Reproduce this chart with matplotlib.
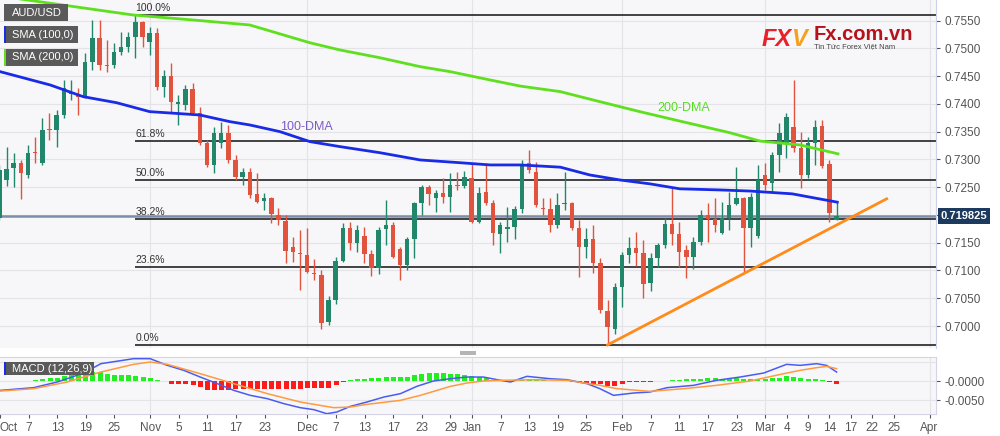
import numpy as np
import matplotlib.pyplot as plt
from matplotlib.patches import Rectangle

plt.rcParams['font.family'] = ['Liberation Sans', 'DejaVu Sans']

# daily candles, index 0 = 1 Oct 2021 (trading days), last = 15 Mar 2022
opens = [0.7195, 0.7263, 0.7285, 0.7294, 0.7272, 0.7314, 0.7294, 0.7355, 0.7353, 0.7380,
         0.7418, 0.7418, 0.7413, 0.7476, 0.7519, 0.7470, 0.7470, 0.7494, 0.7503, 0.7521,
         0.7548, 0.7512, 0.7528, 0.7431, 0.7450, 0.7400, 0.7398, 0.7427, 0.7384, 0.7330,
         0.7290, 0.7330, 0.7348, 0.7299, 0.7268, 0.7277, 0.7238, 0.7225, 0.7231, 0.7200,
         0.7189, 0.7142, 0.7132, 0.7128, 0.7095, 0.7092, 0.7007, 0.7047, 0.7117, 0.7177,
         0.7150, 0.7162, 0.7130, 0.7105, 0.7175, 0.7182, 0.7139, 0.7110, 0.7157, 0.7222,
         0.7250, 0.7231, 0.7240, 0.7232, 0.7254, 0.7252, 0.7267, 0.7187, 0.7241, 0.7222,
         0.7166, 0.7175, 0.7178, 0.7211, 0.7294, 0.7277, 0.7213, 0.7211, 0.7182, 0.7220,
         0.7222, 0.7177, 0.7142, 0.7157, 0.7114, 0.7027, 0.6995, 0.7070, 0.7128, 0.7141,
         0.7132, 0.7077, 0.7123, 0.7146, 0.7184, 0.7166, 0.7137, 0.7124, 0.7151, 0.7200,
         0.7193, 0.7168, 0.7195, 0.7220, 0.7231, 0.7177, 0.7162, 0.7272, 0.7258, 0.7308,
         0.7330, 0.7359, 0.7321, 0.7272, 0.7330, 0.7360, 0.7292, 0.7191]
highs = [0.7290, 0.7323, 0.7312, 0.7299, 0.7326, 0.7341, 0.7375, 0.7384, 0.7389, 0.7443,
         0.7443, 0.7429, 0.7492, 0.7551, 0.7551, 0.7515, 0.7510, 0.7530, 0.7530, 0.7560,
         0.7550, 0.7539, 0.7537, 0.7461, 0.7474, 0.7416, 0.7434, 0.7438, 0.7395, 0.7335,
         0.7359, 0.7368, 0.7362, 0.7308, 0.7285, 0.7285, 0.7276, 0.7240, 0.7232, 0.7213,
         0.7200, 0.7160, 0.7173, 0.7177, 0.7121, 0.7101, 0.7054, 0.7124, 0.7186, 0.7187,
         0.7182, 0.7178, 0.7137, 0.7178, 0.7227, 0.7187, 0.7142, 0.7160, 0.7223, 0.7254,
         0.7254, 0.7245, 0.7267, 0.7276, 0.7277, 0.7279, 0.7294, 0.7250, 0.7294, 0.7227,
         0.7187, 0.7214, 0.7216, 0.7299, 0.7317, 0.7295, 0.7231, 0.7231, 0.7240, 0.7277,
         0.7223, 0.7191, 0.7177, 0.7182, 0.7123, 0.7047, 0.7077, 0.7133, 0.7160, 0.7169,
         0.7155, 0.7132, 0.7150, 0.7195, 0.7249, 0.7187, 0.7146, 0.7160, 0.7209, 0.7222,
         0.7231, 0.7223, 0.7241, 0.7286, 0.7232, 0.7240, 0.7290, 0.7294, 0.7314, 0.7366,
         0.7384, 0.7443, 0.7350, 0.7341, 0.7371, 0.7371, 0.7299, 0.7223]
lows = [0.7191, 0.7252, 0.7250, 0.7229, 0.7267, 0.7294, 0.7290, 0.7335, 0.7323, 0.7375,
        0.7407, 0.7380, 0.7411, 0.7461, 0.7461, 0.7458, 0.7465, 0.7488, 0.7494, 0.7483,
        0.7503, 0.7488, 0.7425, 0.7413, 0.7386, 0.7362, 0.7389, 0.7380, 0.7326, 0.7286,
        0.7276, 0.7321, 0.7294, 0.7263, 0.7254, 0.7231, 0.7222, 0.7209, 0.7186, 0.7182,
        0.7114, 0.7115, 0.7065, 0.7095, 0.7083, 0.6995, 0.7002, 0.7040, 0.7115, 0.7137,
        0.7133, 0.7114, 0.7090, 0.7094, 0.7146, 0.7123, 0.7083, 0.7101, 0.7123, 0.7200,
        0.7218, 0.7205, 0.7222, 0.7205, 0.7245, 0.7249, 0.7186, 0.7186, 0.7218, 0.7146,
        0.7132, 0.7151, 0.7157, 0.7204, 0.7276, 0.7214, 0.7200, 0.7169, 0.7177, 0.7209,
        0.7173, 0.7088, 0.7123, 0.7095, 0.7023, 0.6966, 0.6986, 0.7034, 0.7114, 0.7108,
        0.7050, 0.7063, 0.7106, 0.7141, 0.7146, 0.7106, 0.7086, 0.7103, 0.7146, 0.7151,
        0.7169, 0.7166, 0.7173, 0.7218, 0.7097, 0.7142, 0.7159, 0.7245, 0.7241, 0.7277,
        0.7303, 0.7314, 0.7249, 0.7267, 0.7290, 0.7285, 0.7187, 0.7191]
closes = [0.7281, 0.7283, 0.7294, 0.7276, 0.7312, 0.7312, 0.7353, 0.7353, 0.7380, 0.7429,
          0.7422, 0.7413, 0.7476, 0.7519, 0.7470, 0.7468, 0.7494, 0.7503, 0.7521, 0.7548,
          0.7521, 0.7528, 0.7431, 0.7450, 0.7404, 0.7404, 0.7427, 0.7384, 0.7330, 0.7290,
          0.7348, 0.7348, 0.7299, 0.7268, 0.7277, 0.7236, 0.7223, 0.7231, 0.7202, 0.7191,
          0.7135, 0.7133, 0.7130, 0.7097, 0.7094, 0.7005, 0.7047, 0.7117, 0.7177, 0.7150,
          0.7173, 0.7130, 0.7105, 0.7173, 0.7182, 0.7124, 0.7110, 0.7157, 0.7222, 0.7250,
          0.7238, 0.7240, 0.7232, 0.7254, 0.7252, 0.7268, 0.7187, 0.7240, 0.7222, 0.7168,
          0.7182, 0.7178, 0.7211, 0.7292, 0.7281, 0.7218, 0.7211, 0.7182, 0.7218, 0.7222,
          0.7177, 0.7142, 0.7157, 0.7114, 0.7029, 0.6998, 0.7070, 0.7128, 0.7141, 0.7132,
          0.7076, 0.7123, 0.7146, 0.7184, 0.7166, 0.7133, 0.7124, 0.7151, 0.7200, 0.7193,
          0.7182, 0.7195, 0.7218, 0.7231, 0.7177, 0.7232, 0.7263, 0.7254, 0.7308, 0.7348,
          0.7377, 0.7321, 0.7272, 0.7330, 0.7359, 0.7288, 0.7204, 0.7198]

# moving averages (trading-day index, price)
sma100_x = [0.1, 7.1, 11.7, 16.4, 21.0, 28.0, 32.2, 35.0, 39.2, 43.4, 47.6, 53.2, 58.8,
            64.4, 68.6, 72.8, 78.4, 82.5, 86.7, 90.9, 95.1, 100.7, 104.9, 110.8, 113.3, 117.1]
sma100_y = [0.7458, 0.7434, 0.7413, 0.7402, 0.7386, 0.7380, 0.7368, 0.7362, 0.7350, 0.7332,
            0.7323, 0.7312, 0.7299, 0.7294, 0.7290, 0.7290, 0.7286, 0.7272, 0.7263, 0.7256,
            0.7247, 0.7245, 0.7243, 0.7238, 0.7232, 0.7223]
sma200_x = [0.1, 3.9, 18.7, 28.0, 35.0, 39.2, 43.4, 47.6, 53.2, 58.8, 63.0, 68.6, 72.8,
            78.4, 83.9, 89.5, 95.1, 102.1, 106.3, 111.9, 117.2]
sma200_y = [0.7594, 0.7587, 0.7560, 0.7550, 0.7542, 0.7526, 0.7510, 0.7497, 0.7483, 0.7467,
            0.7458, 0.7443, 0.7432, 0.7422, 0.7404, 0.7386, 0.7369, 0.7348, 0.7333, 0.7326,
            0.7310]

trend_x = [85, 124]
trend_y = [0.6966, 0.7229]
last_price = 0.719825
fib_start = 19
fib_high = 0.7560
fib_low = 0.6966
fib_ratios = [1.0, 0.618, 0.5, 0.382, 0.236, 0.0]

# MACD (12,26,9) histogram, units of 1e-4
macd_hist = [-0.5, -0.3, 0.3, 0.5, 1.0, 2.6, 4.4, 7.0, 8.8, 12.3,
             15.8, 17.5, 21.0, 22.8, 22.8, 19.3, 15.8, 14.9, 14.9, 13.2,
             10.5, 7.0, 1.8, -0.9, -7.0, -8.8, -8.8, -10.5, -15.8, -22.8,
             -24.6, -23.7, -22.8, -21.9, -21.0, -21.0, -21.0, -21.0, -21.0, -21.0,
             -21.0, -20.2, -20.2, -19.3, -19.3, -19.3, -17.5, -10.5, -1.8, 3.5,
             5.3, 6.1, 7.0, 8.8, 11.4, 11.4, 10.5, 10.5, 15.8, 19.3,
             21.0, 21.0, 20.2, 19.3, 17.5, 15.8, 12.3, 10.5, 7.0, 3.5,
             1.8, 0.9, 1.8, 3.5, 4.4, 2.6, 1.8, 0.9, 0.9, -0.9,
             -2.6, -4.4, -5.3, -7.0, -8.8, -12.3, -12.3, -8.8, -3.5, -2.6,
             -2.6, -1.8, -0.9, 0.9, 3.5, 3.5, 4.4, 4.4, 6.1, 7.0,
             7.0, 6.1, 7.0, 7.0, 5.3, 5.3, 6.1, 6.1, 7.0, 8.8,
             12.3, 10.5, 7.0, 5.3, 5.3, 2.6, -2.6, -7.0]
macd_x = [0.1, 4.7, 8.0, 11.7, 14.1, 18.7, 21.0, 23.4, 25.7, 28.0, 30.4, 32.7, 35.0, 37.4,
          39.7, 42.0, 43.9, 45.7, 47.1, 49.0, 51.3, 53.7, 56.0, 58.3, 60.6, 63.0, 65.3, 67.6,
          70.0, 71.4, 73.7, 76.9, 79.3, 82.1, 83.9, 85.8, 88.6, 90.9, 93.3, 97.0, 100.2,
          103.5, 106.8, 110.0, 111.9, 114.2, 115.6, 117.0]
macd_y = [-24.6, -17.5, -2.6, 21.0, 45.6, 58.8, 58.8, 41.2, 28.1, 10.5, -7.0, -24.6, -37.7,
          -46.5, -59.6, -70.2, -75.4, -86.0, -81.6, -66.7, -55.3, -42.1, -33.3, -14.0, 0.0,
          6.1, 10.5, 10.5, 1.8, -2.6, 12.3, 6.1, 3.5, -7.0, -20.2, -37.7, -31.6, -28.9,
          -17.5, -11.4, 1.8, 10.5, 21.0, 43.9, 41.2, 45.6, 41.2, 23.7]
signal_x = [0.1, 4.7, 9.4, 14.1, 18.7, 21.0, 23.4, 28.0, 32.7, 37.4, 42.0, 46.7, 49.0,
            51.3, 56.0, 58.8, 63.0, 65.3, 67.6, 70.0, 74.6, 79.3, 83.9, 86.3, 90.9, 95.6,
            100.2, 104.9, 109.6, 111.9, 114.2, 115.6, 117.0]
signal_y = [-26.3, -20.2, -2.6, 23.7, 43.9, 50.0, 43.9, 19.3, -7.0, -33.3, -55.3, -70.2,
            -68.4, -61.4, -50.9, -37.7, -14.0, -5.3, 0.0, 1.8, 3.5, 1.8, -11.4, -20.2,
            -27.2, -20.2, -11.4, 0.0, 19.3, 28.1, 35.1, 38.6, 32.5]

tick_pos = [0, 4, 8, 12, 16, 21, 25, 29, 33, 37, 43, 47, 51, 55, 59, 63, 66, 70, 74, 78,
            82, 87, 91, 95, 99, 103, 107, 110, 113, 116, 119, 122, 125, 130]
tick_lab = ['Oct', '7', '13', '19', '25', 'Nov', '5', '11', '17', '23', 'Dec', '7', '13',
            '17', '23', '29', 'Jan', '7', '13', '19', '25', 'Feb', '7', '11', '17', '23',
            'Mar', '4', '9', '14', '17', '22', '25', 'Apr']
month_pos = [21, 43, 66, 87, 107, 130]

W, H = 1000, 436
green, red = '#22876a', '#e2533d'
bg = '#f7f7f9'
xlo, xhi = 0.084, 130.9


def fx(px):
    return px / W


def fy(py):
    return 1 - py / H


fig = plt.figure(figsize=(10, 4.36), dpi=100)
ax = fig.add_axes([0, fy(348), fx(936), 348 / H])
axm = fig.add_axes([0, fy(414), fx(936), 57 / H])

# ---- main price panel
ax.set_facecolor(bg)
ax.set_xlim(xlo, xhi)
ax.set_ylim(0.69604, 0.7587)
levels = np.round(np.arange(0.7000, 0.75551, 0.005), 4)
ax.set_yticks(levels)
ax.set_yticklabels(['' if abs(v - 0.72) < 1e-6 else f'{v:.4f}' for v in levels])
ax.yaxis.tick_right()
ax.tick_params(axis='y', labelsize=8.5, colors='#555555', length=3, pad=3)
ax.set_xticks([])
ax.grid(axis='y', color='#e3e3e8', lw=0.8)
for m in month_pos:
    ax.axvline(m, color='#e3e3e8', lw=0.8, zorder=0)
for s in ['left', 'top', 'bottom']:
    ax.spines[s].set_visible(False)
ax.spines['right'].set_color('#cfd0ea')

idx = np.arange(len(opens))
o, h, l, c = map(np.array, (opens, highs, lows, closes))
cols = [green if cc >= oo else red for oo, cc in zip(o, c)]
ax.vlines(idx, l, h, colors=cols, lw=1, zorder=3)
ax.bar(idx, np.maximum(np.abs(c - o), 0.00006), bottom=np.minimum(o, c), width=0.62,
       color=cols, zorder=3)

# fibonacci retracement
for r in fib_ratios:
    lv = fib_low + r * (fib_high - fib_low)
    ax.hlines(lv, fib_start, xhi, color='#333333', lw=1.3, zorder=2)
    ax.text(fib_start, lv + 0.0003, f'{r * 100:.1f}%', fontsize=7.5, color='#333333',
            va='bottom', ha='left', zorder=4)

ax.axhline(last_price, color='#7d8ea8', lw=1.8, zorder=2)
ax.plot(sma100_x, sma100_y, color='#1a2be6', lw=2, zorder=4)
ax.plot(sma200_x, sma200_y, color='#5ee01e', lw=2, zorder=4)
ax.plot(trend_x, trend_y, color='#ff8c1a', lw=2, zorder=4)
ax.text(39.2, 0.7359, '100-DMA', color='#7b5cc4', fontsize=9, va='center', zorder=5)
ax.text(92.0, 0.7393, '200-DMA', color='#55dd22', fontsize=9, va='center', zorder=5)

ax.text(1.005, last_price, '0.719825', transform=ax.get_yaxis_transform(), color='white',
        fontsize=8, fontweight='bold', va='center', ha='left', clip_on=False, zorder=10,
        bbox=dict(boxstyle='square,pad=0.25', fc='#1c3a5e', ec='none'))

# ---- MACD panel
axm.set_facecolor(bg)
axm.set_xlim(xlo, xhi)
axm.set_ylim(-86.8, 63.2)
hist = np.array(macd_hist)
axm.bar(idx, hist, width=0.7, color=['#22ee22' if v >= 0 else '#ff1a1a' for v in hist],
        zorder=3)
axm.plot(macd_x, macd_y, color='#4a5cf0', lw=1.1, zorder=4)
axm.plot(signal_x, signal_y, color='#ff9a40', lw=1.1, zorder=4)
axm.set_yticks([0, -50])
axm.set_yticklabels(['-0.0000', '-0.0050'])
axm.yaxis.tick_right()
axm.tick_params(axis='y', labelsize=8.5, colors='#555555', length=3, pad=3)
axm.set_xticks(tick_pos)
axm.set_xticklabels(tick_lab)
axm.tick_params(axis='x', labelsize=8.5, colors='#555555', length=3, pad=3)
axm.get_xticklabels()[0].set_ha('left')
axm.get_xticklabels()[-1].set_ha('center')
for g in [50, 0, -50]:
    axm.axhline(g, color='#e3e3e8', lw=0.8, zorder=0)
for m in month_pos:
    axm.axvline(m, color='#e3e3e8', lw=0.8, zorder=0)
axm.spines['left'].set_visible(False)
for s in ['top', 'right', 'bottom']:
    axm.spines[s].set_color('#d4d4e6')


# ---- overlay boxes
def box(x0, y0, x1, y1, color, z=6):
    fig.add_artist(Rectangle((fx(x0), fy(y1)), (x1 - x0) / W, (y1 - y0) / H,
                             transform=fig.transFigure, fc=color, ec='none', zorder=z))


box(4, 4, 68, 21, '#5a5a5a')
fig.text(fx(12), fy(12.5), 'AUD/USD', color='white', fontsize=8, va='center', zorder=7)
box(4, 26, 78, 43, '#5a5a5a')
box(4, 26, 6, 43, '#1a2be6', 7)
fig.text(fx(12), fy(34.5), 'SMA (100,0)', color='white', fontsize=8, va='center', zorder=7)
box(4, 49, 78, 66, '#5a5a5a')
box(4, 49, 6, 66, '#5ee01e', 7)
fig.text(fx(12), fy(57.5), 'SMA (200,0)', color='white', fontsize=8, va='center', zorder=7)
box(4, 362, 94, 375, '#5a5a5a')
box(4, 362, 6, 375, '#1a2be6', 7)
fig.text(fx(12), fy(368.5), 'MACD (12,26,9)', color='white', fontsize=8, va='center', zorder=7)
box(460, 351, 476, 355, '#b5b5b5')

# watermark logo
fig.text(fx(762), fy(39), 'FX', color='#e8202a', fontsize=17, fontweight='bold',
         style='italic', va='center', zorder=7)
fig.text(fx(791), fy(39), 'V', color='#f5a11c', fontsize=17, fontweight='bold',
         style='italic', va='center', zorder=7)
fig.text(fx(814), fy(35), 'Fx.com.vn', color='#b5121b', fontsize=14.5, fontweight='bold',
         va='center', zorder=7)
fig.text(fx(814), fy(47), 'Tin Tức Forex Việt Nam', color='#444444', fontsize=5.5,
         va='center', zorder=7)

fig.savefig('out.png', dpi=100, facecolor='white')
